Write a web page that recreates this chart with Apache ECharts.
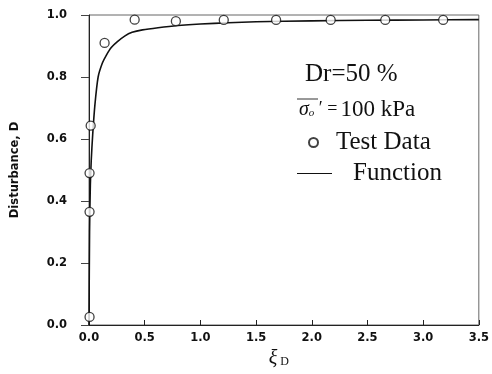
<!DOCTYPE html>
<html><head><meta charset="utf-8">
<script src="https://cdn.jsdelivr.net/npm/echarts@6/dist/echarts.min.js"></script>
<style>html,body{margin:0;padding:0;background:#fff}#c{width:492px;height:374px}</style>
</head><body><div id="c"></div>
<script>
// Test data (xi_D, D)
const testX = [0.005, 0.005, 0.005, 0.015, 0.14, 0.41, 0.78, 1.21, 1.68, 2.17, 2.66, 3.18];
const testD = [0.026, 0.365, 0.49, 0.643, 0.91, 0.985, 0.98, 0.984, 0.984, 0.984, 0.984, 0.984];
// Fitted function curve
const funcX = [0, 0.005, 0.012, 0.02, 0.033, 0.053, 0.082, 0.12, 0.155, 0.2, 0.255, 0.32, 0.387, 0.48, 0.62, 0.8, 1.0, 1.25, 1.5, 2.0, 2.5, 3.0, 3.5];
const funcD = [0, 0.30, 0.45, 0.53, 0.613, 0.71, 0.80, 0.845, 0.87, 0.895, 0.914, 0.932, 0.944, 0.952, 0.959, 0.966, 0.971, 0.975, 0.978, 0.981, 0.983, 0.984, 0.985];
const xTicks = ['0.0','0.5','1.0','1.5','2.0','2.5','3.0','3.5'];
const yTicks = ['0.0','0.2','0.4','0.6','0.8','1.0'];

const chart = echarts.init(document.getElementById('c'), null, {renderer:'canvas'});
const tickFont = {fontFamily:'DejaVu Sans', fontWeight:'bold', fontSize:11.5, color:'#111'};
const serif = 'Liberation Serif';
chart.setOption({
  animation:false,
  backgroundColor:'#fff',
  grid:{left:89, right:5, top:15, bottom:49, show:true, borderColor:'#666', borderWidth:1},
  xAxis:{
    type:'value', min:0, max:3.5, interval:0.5,
    axisLine:{show:true, onZero:false, lineStyle:{color:'#222', width:1}},
    axisTick:{show:true, inside:true, length:5, lineStyle:{color:'#222'}},
    axisLabel:{...tickFont, margin:7, formatter:(v)=>xTicks[Math.round(v/0.5)]},
    splitLine:{show:false},
    name:'{xi|ξ}{sub| D}', nameLocation:'middle', nameGap:21,
    nameTextStyle:{padding:[0,10,0,0], rich:{xi:{fontFamily:serif, fontSize:20, fontStyle:'italic', color:'#111'}, sub:{fontFamily:serif, fontSize:12, color:'#111', padding:[6,0,0,0]}}}
  },
  yAxis:{
    type:'value', min:0, max:1.0, interval:0.2,
    axisLine:{show:true, lineStyle:{color:'#222', width:1}},
    axisTick:{show:true, inside:false, length:8, lineStyle:{color:'#444'}},
    axisLabel:{...tickFont, margin:22, formatter:(v)=>yTicks[Math.round(v/0.2)]},
    splitLine:{show:false},
    name:'Disturbance, D', nameLocation:'middle', nameGap:68,
    nameTextStyle:{fontFamily:'DejaVu Sans', fontWeight:'bold', fontSize:11.5, color:'#111'}
  },
  legend:[
    {data:[{name:'Test Data', icon:'circle'}], orient:'vertical', left:303, top:125, itemWidth:9, itemHeight:9,
     textStyle:{fontFamily:serif, fontSize:25, color:'#111', padding:[0,0,0,13]}},
    {data:[{name:'Function', icon:'rect'}], orient:'vertical', left:292, top:156, itemWidth:35, itemHeight:1.2,
     textStyle:{fontFamily:serif, fontSize:25, color:'#111', padding:[0,0,0,16]}}
  ],
  series:[
    {name:'Function', type:'line', data:funcX.map((x,i)=>[x,funcD[i]]), showSymbol:false, smooth:0.25,
     lineStyle:{color:'#111', width:1.6}, itemStyle:{color:'#111'}, z:2},
    {name:'Test Data', type:'scatter', data:testX.map((x,i)=>[x,testD[i]]), symbol:'circle', symbolSize:9,
     itemStyle:{color:'#fff', borderColor:'#111', borderWidth:1.3}, z:3}
  ],
  graphic:[
    {type:'text', left:305, top:62, style:{text:'Dr=50 %', fontFamily:serif, fontSize:25, fill:'#111'}},
    {type:'text', left:299, top:98, style:{text:'{s|σ}{o|o}{p| \u2032 =}{r|100 kPa}', fontFamily:serif, fill:'#111',
      rich:{s:{fontFamily:serif, fontSize:20, fontStyle:'italic', fill:'#111'},
            o:{fontFamily:serif, fontSize:11, fontStyle:'italic', padding:[8,0,0,0], fill:'#111'},
            p:{fontFamily:serif, fontSize:18, fill:'#111', padding:[0,3,0,0]},
            r:{fontFamily:serif, fontSize:23, fill:'#111'}}}},
    {type:'line', shape:{x1:297, y1:99, x2:318, y2:99}, style:{stroke:'#333', lineWidth:1}}
  ]
});
</script></body></html>
